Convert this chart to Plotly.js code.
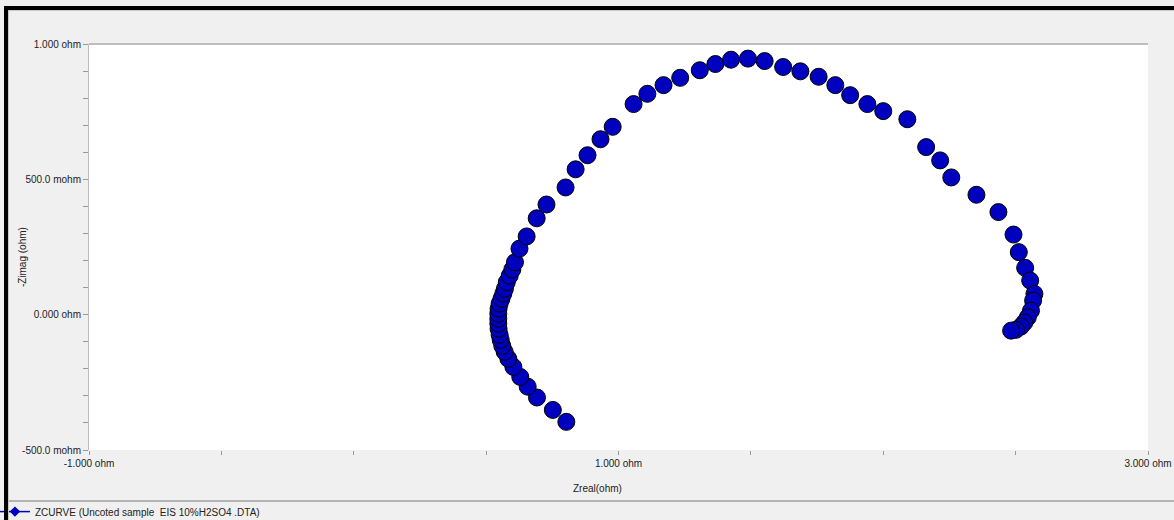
<!DOCTYPE html>
<html>
<head>
<meta charset="utf-8">
<script src="https://cdn.plot.ly/plotly-3.0.1.min.js"></script>
<style>
  html, body { margin: 0; padding: 0; background: #f0f0f0; }
  #wrap { position: relative; width: 1174px; height: 520px; overflow: hidden; }
  #chart { position: absolute; left: 0; top: 0; width: 1174px; height: 520px; }
  #frame { position: absolute; left: 4px; top: 6px; width: 1200px; height: 600px;
           border-left: 4px solid #000; border-top: 4px solid #000; pointer-events: none; }
  #inner { position: absolute; left: 8px; top: 10px; width: 1200px; height: 600px;
           border-left: 1px solid #c8c8c8; border-top: 1px solid #c8c8c8; pointer-events: none; }
  #sep { position: absolute; left: 9px; top: 500px; width: 1170px; height: 0;
         border-top: 2px solid #b4b4b4; pointer-events: none; }
</style>
</head>
<body>
<div id="wrap">
  <div id="chart"></div>
  <div id="frame"></div>
  <div id="inner"></div>
  <div id="sep"></div>
</div>
<script>
// Nyquist data: Zreal (ohm) and -Zimag (ohm)
const zreal = [0.803, 0.752, 0.692, 0.657, 0.629, 0.603, 0.584, 0.570, 0.561, 0.555,
               0.551, 0.547, 0.546, 0.546, 0.546, 0.547, 0.551, 0.558, 0.565, 0.571,
               0.578, 0.589, 0.599, 0.609, 0.626, 0.653, 0.691, 0.728, 0.800, 0.838,
               0.883, 0.932, 0.978, 1.057, 1.109, 1.170, 1.233, 1.307, 1.366, 1.425,
               1.489, 1.552, 1.622, 1.687, 1.756, 1.819, 1.875, 1.940, 2.000, 2.091,
               2.162, 2.215, 2.257, 2.352, 2.435, 2.492, 2.512, 2.536, 2.555, 2.571,
               2.566, 2.558, 2.546, 2.533, 2.520, 2.501, 2.483];
const zimagNeg = [-0.396, -0.352, -0.306, -0.266, -0.230, -0.193, -0.163, -0.137, -0.115, -0.093,
                  -0.074, -0.052, -0.033, -0.015, 0.004, 0.022, 0.041, 0.059, 0.078, 0.096,
                  0.120, 0.144, 0.167, 0.194, 0.244, 0.289, 0.356, 0.407, 0.470, 0.537,
                  0.589, 0.648, 0.694, 0.778, 0.816, 0.848, 0.875, 0.903, 0.926, 0.942,
                  0.946, 0.937, 0.915, 0.899, 0.879, 0.848, 0.811, 0.778, 0.752, 0.722,
                  0.619, 0.570, 0.507, 0.443, 0.379, 0.296, 0.231, 0.173, 0.126, 0.077,
                  0.052, 0.015, -0.010, -0.029, -0.044, -0.056, -0.059];

const xTickVals = [-1, 1, 3];
const xTickText = ['-1.000 ohm', '1.000 ohm', '3.000 ohm'];
const xMinorVals = [-0.5, 0, 0.5, 1.5, 2, 2.5];
const yTickVals = [-0.5, 0, 0.5, 1.0];
const yTickText = ['-500.0 mohm', '0.000 ohm', '500.0 mohm', '1.000 ohm'];
const yMinorVals = [-0.4, -0.3, -0.2, -0.1, 0.1, 0.2, 0.3, 0.4, 0.6, 0.7, 0.8, 0.9];
const seriesName = 'ZCURVE (Uncoted sample  EIS 10%H2SO4 .DTA)';

const font = { family: 'Liberation Sans, Arial, sans-serif', size: 10, color: '#222' };

const trace = {
  x: zreal, y: zimagNeg, type: 'scatter', mode: 'markers', name: seriesName,
  marker: { color: '#0000bf', size: 17, line: { color: '#000', width: 1 } },
  showlegend: false
};
// legend-only entry (no data points), styled like the original legend symbol
const legendEntry = {
  x: [null], y: [null], type: 'scatter', mode: 'lines+markers', name: seriesName,
  marker: { color: '#0000bf', size: 8, symbol: 'diamond' },
  line: { color: '#0000bf', width: 1.5 },
  showlegend: true
};

const layout = {
  width: 1174, height: 520,
  margin: { l: 89, r: 26, t: 44, b: 70, autoexpand: false },
  paper_bgcolor: '#f0f0f0', plot_bgcolor: '#ffffff',
  font: font,
  showlegend: true,
  legend: { x: -0.0888, xanchor: 'left', y: -0.116, yanchor: 'top', orientation: 'h',
            bgcolor: 'rgba(0,0,0,0)', font: font },
  xaxis: {
    range: [-1, 3], tickmode: 'array', tickvals: xTickVals, ticktext: xTickText,
    ticks: 'outside', ticklen: 4, tickcolor: '#999', showgrid: false, zeroline: false,
    showline: false, tickfont: font,
    minor: { tickmode: 'array', tickvals: xMinorVals, ticks: 'outside', ticklen: 4, tickcolor: '#999', showgrid: false }
  },
  yaxis: {
    range: [-0.5, 1.0], tickmode: 'array', tickvals: yTickVals, ticktext: yTickText,
    ticks: 'outside', ticklen: 5, tickcolor: '#999', showgrid: false, zeroline: false,
    showline: true, linecolor: '#bdbdbd', linewidth: 1, tickfont: font,
    minor: { tickmode: 'array', tickvals: yMinorVals, ticks: 'outside', ticklen: 5, tickcolor: '#999', showgrid: false }
  },
  shapes: [
    { type: 'line', xref: 'paper', yref: 'paper', x0: 0, x1: 1, y0: 1, y1: 1,
      line: { color: '#bdbdbd', width: 2 } }
  ],
  annotations: [
    { text: 'Zreal(ohm)', xref: 'paper', yref: 'paper', x: 0.48, y: -0.096,
      xanchor: 'center', yanchor: 'middle', showarrow: false, font: font },
    { text: '-Zimag (ohm)', xref: 'paper', yref: 'paper', x: -0.0633, y: 0.475,
      xanchor: 'center', yanchor: 'middle', showarrow: false, textangle: -90, font: font }
  ]
};

Plotly.newPlot('chart', [trace, legendEntry], layout, { staticPlot: true, displayModeBar: false });
</script>
</body>
</html>
